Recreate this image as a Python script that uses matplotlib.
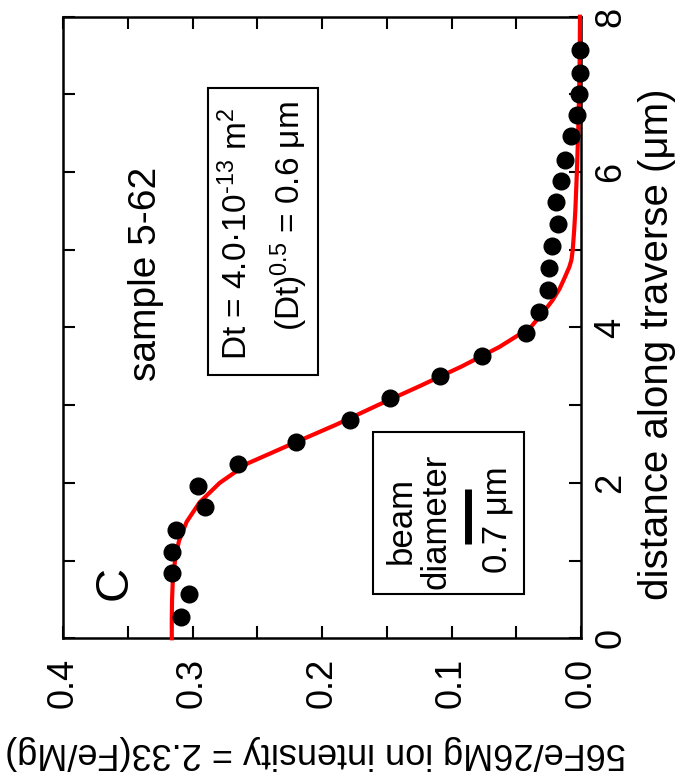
import matplotlib
matplotlib.use("Agg")
import matplotlib.pyplot as plt
from matplotlib.patches import Rectangle
from matplotlib.ticker import MultipleLocator

plt.rcParams['font.family'] = ['Liberation Sans', 'DejaVu Sans']
plt.rcParams['mathtext.fontset'] = 'custom'
plt.rcParams['mathtext.rm'] = 'Liberation Sans'
plt.rcParams['mathtext.it'] = 'Liberation Sans:italic'

# measured points: distance along traverse (um) and 56Fe/26Mg intensity
dist = [0.27, 0.57, 0.84, 1.11, 1.39, 1.69, 1.96, 2.24, 2.52, 2.81, 3.09, 3.37,
        3.63, 3.93, 4.20, 4.48, 4.76, 5.05, 5.33, 5.61, 5.89, 6.16, 6.46, 6.73,
        7.01, 7.28, 7.57]
ratio = [0.309, 0.303, 0.316, 0.316, 0.3125, 0.290, 0.296, 0.265, 0.220, 0.1785,
         0.1476, 0.109, 0.0763, 0.0427, 0.0325, 0.0253, 0.0245, 0.0222, 0.0175,
         0.0196, 0.0155, 0.0124, 0.008, 0.0033, 0.0015, 0.0008, 0.0008]

# model curve
fit_dist = [0.0, 0.25, 0.5, 0.75, 1.0, 1.25, 1.5, 1.75, 2.0, 2.25, 2.5, 2.75,
            3.0, 3.25, 3.5, 3.75, 4.0, 4.2, 4.35, 4.5, 4.65, 4.78, 4.87, 5.0,
            5.25, 5.5, 6.0, 6.5, 7.0, 7.5, 8.0]
fit_ratio = [0.316, 0.316, 0.3158, 0.3152, 0.3135, 0.3105, 0.3045, 0.2945, 0.279,
             0.2575, 0.2235, 0.189, 0.157, 0.124, 0.092, 0.063, 0.039, 0.029,
             0.022, 0.0165, 0.0124, 0.009, 0.0074, 0.0064, 0.0053, 0.0044,
             0.0032, 0.0022, 0.0015, 0.001, 0.0008]

fig = plt.figure(figsize=(6.97, 7.78), dpi=100)
ax = fig.add_axes([0.0904, 0.1796, 0.7432, 0.7989])

ax.plot(fit_ratio, fit_dist, color='#ff0000', lw=3, zorder=3, clip_on=False)
ax.plot(ratio, dist, 'o', color='black', ms=12, zorder=4, clip_on=False)

ax.set_xlim(0.4, 0.0)
ax.set_ylim(0, 8)
ax.xaxis.set_major_locator(MultipleLocator(0.1))
ax.xaxis.set_minor_locator(MultipleLocator(0.05))
ax.yaxis.set_major_locator(MultipleLocator(2))
ax.yaxis.set_minor_locator(MultipleLocator(1))
ax.xaxis.set_major_formatter(lambda v, p: f"{v:.1f}")
ax.yaxis.tick_right()
ax.tick_params(which='both', direction='in', top=True, bottom=True, left=True,
               right=True, length=8.5, width=1.5)
ax.tick_params(axis='x', labelsize=26, labelrotation=90, pad=14)
ax.tick_params(axis='y', labelsize=26, labelrotation=90, pad=9)
for lab in ax.get_yticklabels():
    lab.set_va('center')
for s in ax.spines.values():
    s.set_linewidth(1.8)

fig.text(0.4527, 0.0334, '56Fe/26Mg ion intensity = 2.33(Fe/Mg)', rotation=180,
         ha='center', va='center', fontsize=26)
fig.text(0.9426, 0.558, 'distance along traverse (\u03bcm)', rotation=90,
         ha='center', va='center', fontsize=29)

ax.text(0.336, 4.69, 'sample 5-62', rotation=90, ha='center', va='center', fontsize=28)
ax.text(0.360, 0.71, 'C', rotation=90, ha='center', va='center', fontsize=34)

# Dt box
ax.add_patch(Rectangle((0.203, 3.39), 0.085, 3.69, fill=False, ec='black', lw=1.5))
ax.text(0.266, 5.21, 'Dt = 4.0\u00b710$^{\\text{-13}}$ m$^2$', rotation=90,
        ha='center', va='center', fontsize=24)
ax.text(0.225, 5.44, '(Dt)$^{0.5}$ = 0.6 \u03bcm', rotation=90,
        ha='center', va='center', fontsize=24)

# beam diameter box with 0.7 um scale bar
ax.add_patch(Rectangle((0.044, 0.57), 0.1165, 2.08, fill=False, ec='black', lw=1.5))
ax.text(0.1256, 1.51, 'beam\ndiameter', rotation=90, ha='center', va='center',
        fontsize=25, multialignment='center', linespacing=1.05)
ax.plot([0.087, 0.087], [1.215, 1.915], color='black', lw=5, solid_capstyle='butt')
ax.text(0.0649, 1.52, '0.7 \u03bcm', rotation=90, ha='center', va='center', fontsize=25)

fig.savefig('out.png', dpi=100)
